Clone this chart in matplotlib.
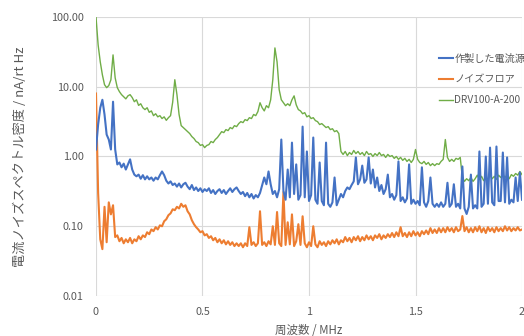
import numpy as np
import matplotlib.pyplot as plt

plt.rcParams['font.family'] = ['Noto Sans CJK JP', 'DejaVu Sans']

# frequency grid of the measurement [MHz], 10 kHz steps
freq = np.round(np.arange(201) * 0.01, 2)

# current noise spectral density [nA/rt Hz]
noise_src = [
    1.26, 2.87, 5.0, 6.5, 4.0, 2.06, 1.75, 1.26, 6.1, 1.26,
    0.77, 0.82, 0.7, 0.79, 0.65, 0.77, 0.91, 0.65, 0.55, 0.52,
    0.55, 0.48, 0.54, 0.47, 0.52, 0.47, 0.5, 0.45, 0.5, 0.47,
    0.54, 0.61, 0.54, 0.45, 0.41, 0.44, 0.39, 0.41, 0.37, 0.41,
    0.36, 0.4, 0.42, 0.37, 0.34, 0.39, 0.33, 0.36, 0.32, 0.35,
    0.31, 0.34, 0.32, 0.35, 0.3, 0.33, 0.29, 0.32, 0.34, 0.3,
    0.33, 0.29, 0.32, 0.35, 0.31, 0.34, 0.36, 0.32, 0.29, 0.31,
    0.27, 0.3, 0.26, 0.29, 0.25, 0.28, 0.26, 0.3, 0.39, 0.5,
    0.4, 0.61, 0.4, 0.29, 0.32, 0.26, 0.34, 1.75, 0.32, 0.24,
    0.65, 0.26, 1.58, 0.29, 0.77, 0.24, 0.28, 2.68, 0.26, 1.18,
    0.23, 0.28, 1.87, 0.24, 0.21, 0.82, 0.23, 0.2, 1.58, 0.21,
    0.19, 0.22, 0.5, 0.2, 0.24, 0.29, 0.26, 0.32, 0.36, 0.34,
    0.39, 0.44, 0.97, 0.4, 0.47, 0.74, 0.42, 0.47, 0.97, 0.41,
    0.65, 0.36, 0.5, 0.32, 0.39, 0.29, 0.34, 0.55, 0.26, 0.29,
    0.24, 0.28, 0.85, 0.23, 0.26, 0.22, 0.25, 0.77, 0.21, 0.24,
    0.21, 0.23, 0.2, 0.7, 0.22, 0.19, 0.23, 0.5, 0.21, 0.19,
    0.21, 0.19, 0.22, 0.19, 0.21, 0.42, 0.19, 0.21, 0.4, 0.19,
    0.21, 0.18, 0.72, 0.18, 0.15, 0.19, 0.55, 0.18, 0.2, 0.18,
    1.18, 0.19, 0.21, 1.0, 0.21, 1.34, 0.22, 0.2, 1.39, 0.23,
    0.23, 1.14, 0.22, 0.97, 0.21, 0.24, 0.22, 0.5, 0.23, 0.59,
    0.24,
]

noise_floor = [
    8.0, 0.3, 0.065, 0.047, 0.19, 0.059, 0.22, 0.148, 0.2, 0.07,
    0.074, 0.061, 0.068, 0.057, 0.065, 0.059, 0.068, 0.057, 0.065, 0.061,
    0.072, 0.065, 0.074, 0.07, 0.082, 0.077, 0.09, 0.085, 0.097, 0.09,
    0.103, 0.1, 0.118, 0.126, 0.144, 0.153, 0.175, 0.17, 0.19, 0.18,
    0.21, 0.19, 0.2, 0.164, 0.148, 0.122, 0.107, 0.097, 0.09, 0.082,
    0.085, 0.074, 0.077, 0.068, 0.072, 0.063, 0.068, 0.059, 0.065, 0.057,
    0.063, 0.055, 0.061, 0.054, 0.059, 0.052, 0.057, 0.052, 0.057, 0.05,
    0.057, 0.052, 0.097, 0.054, 0.059, 0.052, 0.057, 0.164, 0.054, 0.059,
    0.052, 0.061, 0.055, 0.1, 0.054, 0.16, 0.057, 0.052, 0.31, 0.054,
    0.114, 0.055, 0.148, 0.052, 0.061, 0.107, 0.054, 0.139, 0.057, 0.05,
    0.059, 0.052, 0.1, 0.055, 0.05, 0.061, 0.054, 0.059, 0.052, 0.061,
    0.055, 0.063, 0.057, 0.065, 0.055, 0.063, 0.059, 0.07, 0.061, 0.068,
    0.059, 0.07, 0.063, 0.072, 0.061, 0.07, 0.063, 0.074, 0.065, 0.072,
    0.063, 0.074, 0.068, 0.077, 0.065, 0.074, 0.068, 0.077, 0.07, 0.08,
    0.07, 0.082, 0.072, 0.097, 0.072, 0.08, 0.07, 0.082, 0.072, 0.085,
    0.074, 0.082, 0.072, 0.085, 0.077, 0.087, 0.077, 0.094, 0.08, 0.09,
    0.08, 0.094, 0.082, 0.094, 0.082, 0.097, 0.085, 0.094, 0.082, 0.097,
    0.085, 0.09, 0.14, 0.085, 0.097, 0.082, 0.094, 0.082, 0.097, 0.085,
    0.1, 0.082, 0.094, 0.08, 0.097, 0.085, 0.094, 0.082, 0.097, 0.085,
    0.094, 0.085, 0.1, 0.087, 0.097, 0.085, 0.094, 0.087, 0.097, 0.087,
    0.09,
]

noise_drv = [
    100, 39.8, 22.7, 14.8, 10.7, 9.7, 10.4, 12.6, 28.6, 13.4,
    9.7, 8.5, 7.7, 7.2, 6.7, 7.4, 7.7, 7.0, 6.1, 6.5,
    5.4, 5.7, 5.0, 4.7, 5.0, 4.3, 4.5, 3.85, 4.1, 3.7,
    3.85, 3.5, 3.7, 3.3, 3.6, 3.85, 6.0, 12.6, 7.7, 4.0,
    2.77, 2.6, 2.43, 2.27, 2.13, 1.93, 1.81, 1.64, 1.58, 1.44,
    1.48, 1.34, 1.44, 1.48, 1.64, 1.58, 1.75, 1.87, 2.06, 2.27,
    2.2, 2.43, 2.35, 2.6, 2.5, 2.77, 2.68, 2.96, 3.16, 3.06,
    3.38, 3.27, 3.6, 3.5, 4.0, 3.85, 4.4, 5.9, 5.0, 4.5,
    5.35, 5.0, 6.5, 12.6, 36.0, 22.7, 9.06, 6.5, 5.9, 5.35,
    5.7, 5.35, 6.5, 7.4, 5.5, 4.7, 4.5, 4.1, 4.25, 3.7,
    3.85, 3.5, 3.6, 3.27, 3.16, 2.87, 2.96, 2.77, 2.6, 2.68,
    2.43, 2.5, 2.27, 2.35, 2.13, 1.18, 1.07, 1.18, 1.03, 1.14,
    1.07, 1.22, 1.1, 1.18, 1.07, 1.14, 1.03, 1.18, 1.07, 1.1,
    1.0, 1.1, 1.03, 1.14, 1.03, 1.07, 0.97, 1.07, 1.0, 1.03,
    0.94, 1.0, 0.91, 0.97, 0.88, 0.94, 0.85, 0.91, 0.82, 0.91,
    1.26, 0.91, 0.82, 0.79, 0.85, 0.77, 0.82, 0.74, 0.79, 0.74,
    0.79, 0.77, 0.85, 0.91, 1.75, 0.97, 0.85, 0.91, 0.85, 0.94,
    0.91, 0.97, 0.5, 0.44, 0.48, 0.45, 0.5, 0.44, 0.48, 0.54,
    0.47, 0.52, 0.45, 0.5, 0.47, 0.54, 0.48, 0.52, 0.47, 0.54,
    0.5, 0.55, 0.5, 0.54, 0.48, 0.55, 0.52, 0.57, 0.54, 0.61,
    0.55,
]

labels = ['作製した電流源', 'ノイズフロア', 'DRV100-A-200']
colors = ['#4472C4', '#ED7D31', '#70AD47']
xticks = [0, 0.5, 1, 1.5, 2]
xticklabels = ['0', '0.5', '1', '1.5', '2']
yticks = [0.01, 0.1, 1, 10, 100]

grey = '#595959'

fig = plt.figure(figsize=(5.24, 3.36), dpi=100)
ax = fig.add_axes([0.1832, 0.119, 0.813, 0.8305])

ax.plot(freq, noise_drv, color=colors[2], lw=1.0, label=labels[2], zorder=2)
ax.plot(freq, noise_floor, color=colors[1], lw=1.5, label=labels[1], zorder=3)
ax.plot(freq, noise_src, color=colors[0], lw=1.5, label=labels[0], zorder=4)

ax.set_yscale('log')
ax.set_ylim(0.01, 100)
ax.set_xlim(0, 2)
ax.set_yticks(yticks)
ax.set_yticklabels([f'{v:.2f}' for v in yticks])
ax.minorticks_off()
ax.set_xticks(xticks)
ax.set_xticklabels(xticklabels)
ax.tick_params(length=0, labelsize=7.8, colors=grey)
ax.tick_params(axis='y', pad=9)
ax.tick_params(axis='x', pad=8)

ax.grid(True, color='#d9d9d9', lw=0.8)
ax.set_axisbelow(True)
for s in ax.spines.values():
    s.set_visible(False)

ax.set_xlabel('周波数 / MHz', fontsize=8.3, color=grey, labelpad=5)
ax.set_ylabel('電流ノイズスペクトル密度 / nA/rt Hz', fontsize=9.5, color=grey, labelpad=17)

h, l = ax.get_legend_handles_labels()
order = [2, 1, 0]
fig.legend([h[i] for i in order], [l[i] for i in order],
           loc='upper left', bbox_to_anchor=(0.837, 0.84),
           frameon=False, fontsize=7.3, labelcolor=grey,
           handlelength=1.4, handletextpad=0.15, labelspacing=1.05,
           borderaxespad=0, borderpad=0)

plt.savefig('out.png', dpi=100)
